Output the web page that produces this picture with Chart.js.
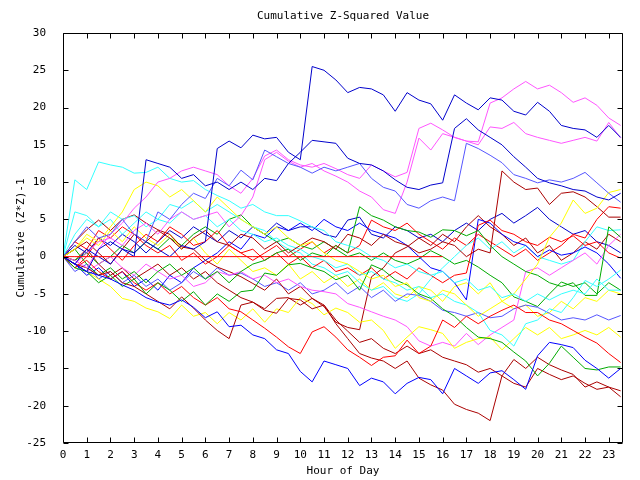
<!DOCTYPE html>
<html>
<head>
<meta charset="utf-8">
<script src="https://cdn.jsdelivr.net/npm/chart.js@4"></script>
<style>html,body{margin:0;padding:0;background:#fff;} canvas{display:block;}</style>
</head>
<body>
<canvas id="myChart" width="640" height="480"></canvas>
<script>
// half-hour sample points, 0 .. 23.5
const hours = [0, 0.5, 1, 1.5, 2, 2.5, 3, 3.5, 4, 4.5, 5, 5.5, 6, 6.5, 7, 7.5, 8, 8.5, 9, 9.5, 10, 10.5, 11, 11.5,
    12, 12.5, 13, 13.5, 14, 14.5, 15, 15.5, 16, 16.5, 17, 17.5, 18, 18.5, 19, 19.5, 20, 20.5, 21, 21.5, 22, 22.5, 23, 23.5];

const flatRed = [0, 0, 0, 0, 0, 0, 0, 0, 0, 0, 0, 0, 0, 0, 0, 0, 0, 0, 0, 0, 0, 0, 0, 0, 0, 0, 0, 0, 0, 0, 0, 0, 0,
    null, null, null, null, null, null, null, null, null, null, null, null, null, null, null];
const navy1 = [0, -1, 1, 0, -1, 1, 0.5, 2, 1, 0, 1.5, 1, 2, 14.5, 15.5, 14.6, 16.3, 15.8, 16, 14, 13, 25.5, 25, 23.7,
    22, 22.7, 22.5, 21.7, 19.5, 22, 21, 20.5, 18.3, 21.7, 20.6, 19.7, 21.3, 21, 19.5, 19, 20.7, 19.5, 17.6, 17.2, 17, 16, 17.6, 16];
const blue2 = [0, -1, -2, -2.5, -3, -3.8, -4.5, -5.5, -6.1, -6.5, -5.8, -6.8, -8.2, -7.4, -9.4, -9.2, -10.5, -11, -12.5, -13, -15.4, -16.8, -14, -14.5,
    -15, -17.3, -16.3, -16.8, -18.4, -17, -16.2, -16.5, -18.4, -15, -16, -17, -15.6, -15.3, -16.5, -17.8, -13.3, -11.5, -11.8, -12.2, -13.9, -15, -16.3, -15];
const navy3 = [0, -1, -2, 1, 2, 1, 0, 13, 12.5, 12, 10.5, 11, 9.5, 10, 9, 10, 9, 10.5, 10.2, 12.5, 14, 15.6, 15.4, 15.2,
    13.2, 12.5, 12.3, 11.5, 10.3, 9.3, 9, 9.6, 9.9, 17.2, 18.5, 17, 16, 15, 13.4, 12, 10.5, 9.9, 9.5, 9, 8.8, 8, 7.6, 8.5];
const mblue4 = [0, 2, 4, 2.5, 3, 5, 3, 2, 6, 5, 7, 8.5, 7.8, 10.5, 9.5, 11.6, 10.3, 14.3, 13.4, 12.5, 12, 11.2, 12, 11.5,
    12, 12.5, 10.5, 9.3, 8.8, 7, 6.5, 7.5, 8, 7.5, 15.2, 14.5, 13.6, 12.6, 11, 10.5, 9.9, 10.3, 10, 10.5, 11.3, 9.9, 8.5, 7.3];
const mblue5 = [0, -2, -1, -3, -2, -3.5, -2.5, -4, -3, -4.5, -3.5, -2, -3, -1.5, -2.5, -2.2, -3, -4, -3.5, -4.5, -3.5, -5, -4.5, -3.5,
    -5, -4, -5.5, -4.5, -6, -5, -5.2, -6, -7.2, -7.5, -8, -7.5, -8.2, -8, -7, -6.5, -6.8, -7.6, -8.5, -8.2, -8.5, -7.8, -8.5, -7.9];
const blue6 = [0, -1, -2.5, -1.5, -3, -2, -4, -3, -4.5, -2.5, -3.5, -1.5, -0.5, 0.5, 2, 1, 3, 2.5, 4, 3.5, 4.5, 3.5, 5, 4,
    3.5, 4.5, 3.5, 3, 2.5, 1.5, 0, -1.5, -2, -3.5, -5.8, 5, 4.5, 3, 2, 1.5, 0, 0.9, 0.2, 0.5, 1.3, 0.5, -1, -2.9];
const navy8 = [0, 1.5, 0.5, 2.5, 1.5, 3, 2, 0.5, 2, 3.5, 2.5, 4, 3, 2, 3.5, 2.5, 4, 3, 4.5, 3.5, 4, 4, 3, 2.6,
    4.9, 5.3, 3, 2.5, 4, 3.5, 2.5, 3, 2, 3.5, 4.5, 3.5, 5, 5.8, 4.5, 5.5, 6.6, 5, 4, 3, 3.5, 2, 1.5, 0.5];
const magA = [0, -0.5, -1.5, 1, 3, 4.5, 6.5, 8, 10, 10.5, 11.5, 12, 11.5, 11, 9.5, 8.5, 10.5, 13.5, 14.3, 13, 12.3, 12, 12.5, 11.8,
    11, 10.5, 12.3, 11.5, 10.7, 11.3, 17.2, 17.9, 17, 16, 15.5, 15.4, 20.6, 21.3, 22.5, 23.5, 22.5, 23, 22, 20.7, 21.3, 20.3, 18.6, 17.6];
const magB = [0, -1, 0.5, 2, 2.5, 1.5, 3.5, 4.5, 3, 5, 6, 5, 5.5, 6, 4, 5.5, 8, 13, 14, 12.8, 12, 12.5, 11.5, 10.8,
    10, 8.8, 8, 6.3, 5.8, 10, 15.9, 14.3, 16.5, 16, 15.5, 15, 17.4, 17.2, 18, 16.5, 16, 15.6, 15.2, 15.6, 16, 15.5, 18, 15.9];
const magC = [0, -1, -2, -1, 0, -1.5, -2.5, -1, -2, -3, -2.5, -4, -3.5, -2, -2.5, -2, -3, -2.5, -3.5, -3, -4, -4.5, -4.7, -5,
    -6.3, -6.8, -7.4, -8, -8.5, -9.4, -11.3, -12, -11.5, -12, -10.3, -11.8, -10.5, -9.5, -8.5, -2, -1.5, -2.5, -1.5, -0.5, 0.5, -1, 1.5, 3];
const cyan1 = [0, 10.3, 9, 12.7, 12.3, 12, 11.2, 11.3, 12, 10.5, 10, 10.2, 9, 8.2, 7.5, 6.5, 7, 6, 5.5, 5.5, 4.8, 4, 3.5, 2,
    1.5, 1, 0, -0.5, -1.5, -1, -2, -2.5, -2, -3.5, -3, -4.5, -4, -5.5, -5, -6, -5, -5.8, -5, -4.5, -5, -3, -4.5, -4.5];
const cyan2 = [0, 3, 5, 4, 6, 5, 5.5, 4, 5, 4.5, 6, 5, 5.5, 4, 5, 3.5, 3, 2, 2.5, 1.5, 1, 0, -0.5, -1.5,
    -1, -2.5, -2, -3, -3.5, -4.5, -4, -5.5, -5, -6, -6.5, -7.5, -9.9, -10.5, -12, -9, -8.5, -7, -7.5, -5.5, -3.2, -4, -3, -1.8];
const cyan3 = [0, 6, 5.5, 4, 5, 3, 4.5, 6, 5, 7, 6.5, 7.5, 6, 7, 6, 5, 4, 3.5, 2, 1, 0.5, -1, -1.5, -2.5,
    -2, -3.5, -4.5, -4, -5.5, -6, -5, -3, -1.5, 0, 1.5, 2.5, 1, 2, 0.5, 1.5, 0, -0.5, -1, -0.5, 2, 4, 3.5, 3.6];
const yellow1 = [0, 1, 3, 2, 4, 6, 9, 10, 9.5, 8, 9, 7.5, 6, 8, 6.5, 5, 4, 3, 4, 2.5, 1.5, 2, 0.5, -0.5,
    -1, -2, -3, -2.5, -4, -3.5, -5.5, -6, -4.5, -5, -6.5, -8, -7, -6, -5, -3, -1, 2.6, 4.5, 7.6, 5.8, 6.5, 8.6, 9];
const yellow2 = [0, -1, -2, -3, -4, -5.6, -6, -6.9, -7.4, -8.3, -6.5, -8, -7.5, -9, -7.5, -8.5, -7, -8.8, -7, -7.5, -5.5, -6.3, -7.8, -6.9,
    -7.5, -8.8, -8.5, -9.9, -12.3, -10.8, -9.4, -9.8, -10.3, -12.3, -11.5, -11, -10.8, -12.5, -11, -9.5, -10.5, -9.5, -11, -10.5, -9.9, -10.5, -9.5, -10.8];
const yellow3 = [0, 1, 2.5, 1.5, 3.5, 2, 4, 2.5, 1.5, 3, 1, 2.5, 0.5, -1, 1, -0.5, -2, -1.5, -2.5, -1, -3, -2, -3.5, -2.5,
    -4, -3, -4.5, -3.5, -5, -5.5, -4, -4.5, -6, -4, -3.5, -5, -3.5, -6, -7, -6.5, -8, -7.5, -6, -7, -5.5, -6, -4.5, -5];
const green1 = [0, -1.5, -2, -3.5, -2.5, -4, -3, -5, -3.5, -4.5, -6, -4.7, -6.5, -5, -6, -4.7, -4.5, -2.2, -2.5, -1.1, -0.9, -1.5, -2, -3.1,
    -2.5, -4.5, -1.1, -1.8, -3.1, -3.8, -5, -5.6, -7, -8, -9.5, -10.8, -11, -11.5, -12.8, -14, -16, -14.3, -12, -13.5, -15, -15.2, -14.8, -14.8];
const green2 = [0, 1, -1, -2.5, -1.5, -3, -2, -3.5, -2, -1, -2.5, -1.5, -3, -2, -3.5, -2, -1, -0.5, 0.5, 1, -0.5, 0.5, 0, 1.5,
    0.5, 6.7, 5.5, 4.9, 4, 3.5, 3.3, 2.6, 3.6, 3.5, 2.8, 3.5, 1.5, 0, -1, -2, -2.5, -3.5, -4, -3.5, -5.2, -5.2, 4, 2.6];
const green3 = [0, -0.5, 0.5, -1, 0, 1.5, 0.5, 2, 1, 2.5, 1.5, 3, 4, 3, 5, 5.6, 4, 3, 2, 2.5, 1.5, 1, 2, 1,
    0, 0.5, -0.5, 0.5, -0.5, -1, -0.3, 0.8, 0, -1, -0.5, -1.4, -2.5, -3.5, -5.4, -6, -6.7, -5, -3.4, -4, -3.5, -5, -3.5, -4.5];
const red1 = [0, -1.5, -0.5, -2, -3, -2, -3.5, -4.5, -3.5, -5, -4, -5.5, -6.5, -5.5, -7, -7.4, -8.5, -9.6, -10.8, -12.1, -13, -10.1, -9.4, -10.8,
    -12.5, -13.5, -14.6, -13.5, -13.3, -11.2, -13, -12, -8.5, -9.5, -8, -9, -8, -7.2, -6.5, -7.5, -7.5, -8.5, -9, -9.9, -10.8, -11.6, -13, -14.2];
const red3 = [0, -1.5, 0, 2.5, 1, -0.5, 1.5, 3, 2, 4, 3, 1.5, 2, 3.5, 1.5, 0.5, 1, -0.5, 0.5, -1, 0, -1.5, -0.5, -2,
    -1.5, -2.5, -1.5, -3, -2, -3, -1.5, -2.5, -3.5, -2.5, -2.2, 4.2, 4.9, 3.5, 3, 2, 1.5, 2.6, 2, 2.8, 1.5, 2, 0.5, -0.2];
const red4 = [0, 2, 1, 3.5, 2.5, 4, 3, 1.5, 0.5, 1.5, -0.5, 0.5, -1, 0, 1.5, 0.5, -0.5, 0.5, 1.5, 0, 1, 2, 0.5, 1.5,
    0.5, 1.5, 4.9, 4, 3.5, 4.5, 3, 2, 1, 2.5, 1.5, 3, 2, 1, 0, 1, -0.5, 0.5, 1.5, 3, 2.5, 5, 6.7, 6.5];
const darkred2 = [0, 1, 2, 0.5, -1, 1, 3, 2, 3.5, 2.5, 1, 2.5, 3.5, 2, 1.5, 3, 2.5, 1, 2, 0.5, 1.5, 2.5, 2, 1,
    3, 2.5, 1.5, 3, 2, 1.5, 0.5, 1, 2, 1.5, 0, 1, 0.5, 11.5, 10, 9, 9.2, 7, 8.5, 8.7, 8, 6.7, 5.3, 5.3];
const darkred5 = [0, -1, -1.5, -2.5, -2, -3.5, -4, -5, -6, -7, -5.4, -6.9, -8.5, -9.9, -11, -6.5, -6.1, -7.2, -7.6, -5.6, -5.8, -7, -6.5, -9,
    -11, -13, -13.6, -14, -15, -14, -16.3, -17.2, -17.9, -19.8, -20.5, -21, -22, -16, -13.8, -15, -13.5, -14.5, -15.2, -15.8, -17.5, -16.8, -17.5, -18.8];
const darkred6 = [0, 2, 3.6, 4.9, 3.5, 5, 5.6, 4.5, 3.6, 3, 1.3, 1, -0.5, -1.4, -2, -2.7, -3.6, -4.5, -3, -5, -4, -5.6, -6.5, -8.5,
    -10, -11.5, -11, -12.3, -13, -12, -13, -12.5, -13.5, -14, -14.5, -15.5, -15, -16, -17, -17.5, -15, -15.8, -16.5, -16, -17, -17.8, -17.5, -18];
const darkred7 = [0, -0.5, 1, -1, -2.5, -1.5, -3, -2, -1, -2.5, -1.5, -3, -2, -3.5, -4.5, -5.5, -6.1, -7, -5.6, -5.5, -6.5, -5.6, -6.7, -8.8,
    -9.5, -9.8, -2.7, -1.5, 0.5, 1.3, 2.5, 1.5, 3, 2, 4, 5.5, 4, 3, 1.5, 2.5, 0.5, 1.5, -0.5, 0.5, 2, 1, 3, 2];

const series = [
    [flatRed, '#ff0000'],
    [navy1, '#0000cc'], [blue2, '#0000ff'], [navy3, '#0000cc'], [mblue4, '#5555ff'],
    [magA, '#ff55ff'], [magB, '#ff55ff'], [cyan1, '#33ffff'], [yellow1, '#ffff00'],
    [green1, '#00aa00'], [red1, '#ff0000'], [darkred2, '#aa0000'], [darkred5, '#aa0000'],
    [cyan2, '#33ffff'], [yellow2, '#ffff00'], [green2, '#00aa00'], [red3, '#ff0000'],
    [magC, '#ff55ff'], [darkred6, '#aa0000'], [mblue5, '#5555ff'], [blue6, '#0000ff'],
    [cyan3, '#33ffff'], [yellow3, '#ffff00'], [green3, '#00aa00'], [red4, '#ff0000'],
    [darkred7, '#aa0000'], [navy8, '#0000cc']
];

const ctx = document.getElementById('myChart');
const font = { family: 'DejaVu Sans Mono', size: 11, weight: 'normal' };

// box round the plot with tick marks pointing inwards on all four sides
const frame = {
    id: 'frame',
    afterDraw(chart) {
        const { ctx, chartArea: a, scales: { x, y } } = chart;
        const L = Math.round(a.left) + 0.5, R = Math.round(a.right) - 0.5;
        const T = Math.round(a.top) + 0.5, B = Math.round(a.bottom) - 0.5;
        ctx.save();
        ctx.strokeStyle = '#000';
        ctx.lineWidth = 1;
        ctx.beginPath();
        ctx.rect(L, T, R - L, B - T);
        x.ticks.forEach(t => {
            const px = Math.round(x.getPixelForValue(t.value)) + 0.5;
            ctx.moveTo(px, B); ctx.lineTo(px, B - 5);
            ctx.moveTo(px, T); ctx.lineTo(px, T + 5);
        });
        y.ticks.forEach(t => {
            const py = Math.round(y.getPixelForValue(t.value)) + 0.5;
            ctx.moveTo(L, py); ctx.lineTo(L + 5, py);
            ctx.moveTo(R, py); ctx.lineTo(R - 5, py);
        });
        ctx.stroke();
        ctx.restore();
    }
};

new Chart(ctx, {
    type: 'line',
    data: {
        datasets: series.map(([vals, color]) => ({
            data: hours.map((h, i) => ({ x: h, y: vals[i] })),
            borderColor: color,
            borderWidth: 1,
            pointRadius: 0,
            tension: 0,
            fill: false
        }))
    },
    options: {
        responsive: false,
        animation: false,
        layout: { padding: { left: 0, right: 17, top: 0, bottom: 0 } },
        plugins: {
            legend: { display: false },
            tooltip: { enabled: false },
            title: {
                display: true,
                text: 'Cumulative Z-Squared Value',
                fullSize: false,
                color: '#000',
                font: font,
                padding: { top: 10, bottom: 9.8 }
            }
        },
        scales: {
            x: {
                type: 'linear',
                min: 0,
                max: 23.6,
                grid: { display: false, drawTicks: false },
                border: { display: false },
                ticks: { stepSize: 1, includeBounds: false, autoSkip: false, maxRotation: 0, color: '#000', font: font, padding: 6 },
                title: { display: true, text: 'Hour of Day', color: '#000', font: font, padding: { top: 0, bottom: 2 } },
                afterFit(s) { s.height = 37; }
            },
            y: {
                min: -25,
                max: 30,
                grid: { display: false, drawTicks: false },
                border: { display: false },
                ticks: { stepSize: 5, color: '#000', font: font, padding: 17 },
                title: { display: true, text: 'Cumulative (Z*Z)-1', color: '#000', font: font, padding: { top: 15, bottom: 0 } },
                afterFit(s) { s.width = 63; }
            }
        }
    },
    plugins: [frame]
});
</script>
</body>
</html>
